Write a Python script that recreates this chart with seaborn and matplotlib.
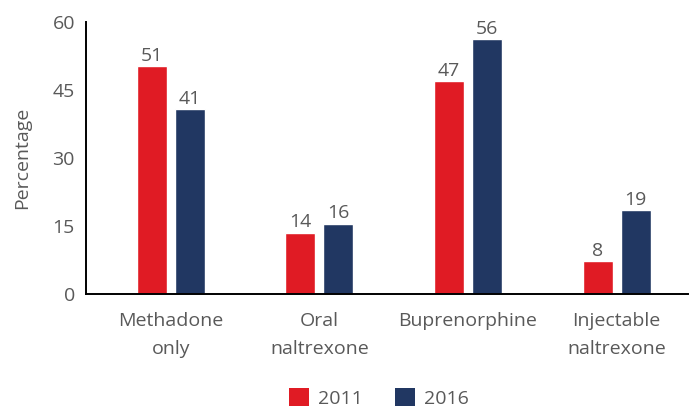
import pandas as pd
import seaborn as sns
import matplotlib.pyplot as plt
from matplotlib.patches import Patch

# data
categories = ['Methadone\nonly', 'Oral\nnaltrexone', 'Buprenorphine', 'Injectable\nnaltrexone']
years = ['2011', '2016']
values_2011 = [50.3, 13.5, 47.0, 7.3]
values_2016 = [40.8, 15.5, 56.2, 18.5]
labels_2011 = ['51', '14', '47', '8']
labels_2016 = ['41', '16', '56', '19']

colors = ['#E01B24', '#213762']
text_color = '#595959'

df = pd.DataFrame({
    'category': categories * 2,
    'year': [years[0]] * 4 + [years[1]] * 4,
    'value': values_2011 + values_2016,
})

sns.set_theme(style="white")
plt.rcParams['font.family'] = ['Open Sans', 'DejaVu Sans']

fig = plt.figure(figsize=(6.91, 4.09), dpi=100)
ax = fig.add_axes([86 / 691, 1 - 294 / 409, 602 / 691, 272 / 409])

sns.barplot(
    data=df, x='category', y='value', hue='year',
    palette=colors, saturation=1, width=0.51, gap=0.21, errorbar=None,
    legend=False, ax=ax,
)

# value labels above bars
for cont, labs in zip(ax.containers, [labels_2011, labels_2016]):
    ax.bar_label(cont, labels=labs, padding=1, fontsize=14, color=text_color)

ax.set_ylim(0, 60)
ax.set_xlim(-0.57, 3.48)
ax.set_yticks([0, 15, 30, 45, 60])
ax.set_xticks(range(len(categories)))
ax.set_xticklabels(categories, linespacing=1.7)
ax.tick_params(axis='both', length=0, labelsize=14, colors=text_color)
ax.tick_params(axis='y', pad=8)
ax.tick_params(axis='x', pad=13)
ax.set_xlabel('')
ax.set_ylabel('Percentage', fontsize=14, color=text_color, labelpad=15)

for s in ['top', 'right']:
    ax.spines[s].set_visible(False)
for s in ['left', 'bottom']:
    ax.spines[s].set_color('black')
    ax.spines[s].set_linewidth(1.4)

handles = [Patch(facecolor=c, edgecolor='none') for c in colors]
fig.legend(handles, years, loc='center', bbox_to_anchor=(379 / 691, 1 - 398 / 409),
           ncol=2, frameon=False, fontsize=14, labelcolor=text_color,
           handlelength=1.03, handleheight=1.03, handletextpad=0.46, columnspacing=1.7,
           borderpad=0)

fig.savefig('out.png', dpi=100)
